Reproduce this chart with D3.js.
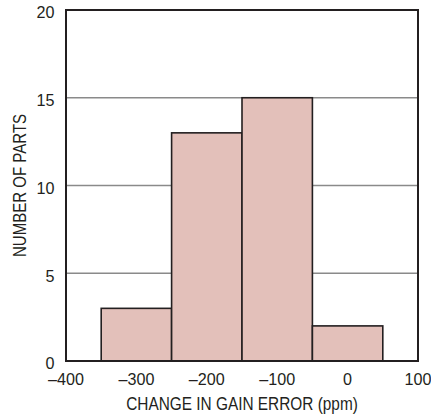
<!DOCTYPE html>
<html><head><meta charset="utf-8">
<script src="https://cdn.jsdelivr.net/npm/d3@7"></script>
<style>body{margin:0;background:#fff}text{font-family:"Liberation Sans",Arial,sans-serif;fill:#231f20}</style>
</head><body><svg id="c" width="431" height="419"></svg>
<script>
const binStarts = [-350, -250, -150, -50];
const binEnds = [-250, -150, -50, 50];
const counts = [3, 13, 15, 2];
const xTicks = [-400, -300, -200, -100, 0, 100];
const yTicks = [0, 5, 10, 15, 20];

const svg = d3.select("#c");
const m = {l:66, r:418, t:10, b:361};
const x = d3.scaleLinear().domain([-400, 100]).range([m.l, m.r]);
const y = d3.scaleLinear().domain([0, 20]).range([m.b, m.t]);

// grid
svg.append("g").selectAll("line").data(yTicks.filter(d=>d>0&&d<20)).join("line")
  .attr("x1", m.l).attr("x2", m.r).attr("y1", d=>y(d)).attr("y2", d=>y(d))
  .attr("stroke", "#8a8a8a").attr("stroke-width", 1.3);

// bars
svg.append("g").selectAll("rect").data(counts).join("rect")
  .attr("x", (d,i)=>x(binStarts[i])).attr("width", (d,i)=>x(binEnds[i])-x(binStarts[i]))
  .attr("y", d=>y(d)).attr("height", d=>y(0)-y(d))
  .attr("fill", "#e3c0ba").attr("stroke", "#231f20").attr("stroke-width", 1.6);

// frame
svg.append("rect").attr("x", m.l).attr("y", m.t).attr("width", m.r-m.l).attr("height", m.b-m.t)
  .attr("fill", "none").attr("stroke", "#231f20").attr("stroke-width", 2);

const fmt = d => d < 0 ? "\u2013" + Math.abs(d) : String(d);
// x axis
const xa = svg.append("g").attr("transform", `translate(0,${m.b})`)
  .call(d3.axisBottom(x).tickValues(xTicks).tickSize(0).tickFormat(fmt));
xa.select(".domain").remove();
xa.selectAll("text").style("font-family", null).attr("font-size", 17)
  .attr("y", 0).attr("dy", null).attr("transform", "translate(-0.5,23.6) scale(0.95,1)");
// y axis
const ya = svg.append("g").attr("transform", `translate(${m.l},0)`)
  .call(d3.axisLeft(y).tickValues(yTicks).tickSize(0).tickFormat(fmt));
ya.select(".domain").remove();
ya.selectAll("text").style("font-family", null).attr("font-size", 17)
  .attr("x", 0).attr("dy", null).attr("y", 0).attr("transform", "translate(-11.5,7.8) scale(0.95,1)");
svg.selectAll(".tick text").attr("fill", "#231f20");

svg.append("text").attr("transform", `translate(${(m.l+m.r)/2},410) scale(0.88,1)`).attr("text-anchor", "middle")
  .attr("font-size", 17.5).text("CHANGE IN GAIN ERROR (ppm)");
svg.append("text").attr("transform", `translate(25.5,${(m.t+m.b)/2}) rotate(-90) scale(0.86,1)`)
  .attr("text-anchor", "middle").attr("font-size", 17.5).text("NUMBER OF PARTS");
</script></body></html>
